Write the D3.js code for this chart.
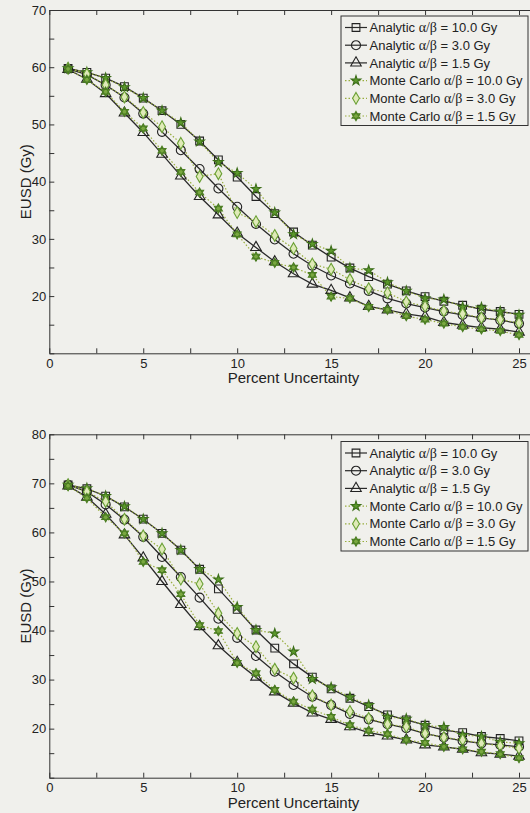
<!DOCTYPE html>
<html>
<head>
<meta charset="utf-8">
<script src="https://cdn.jsdelivr.net/npm/d3@7"></script>
<style>
  html,body{margin:0;padding:0;background:#f0f0ec;}
  svg{display:block;font-family:"Liberation Sans",Arial,sans-serif;}
  .axis path,.axis line{stroke:#333;stroke-width:1;}
  .axis text{font-size:13px;fill:#222;font-family:"Liberation Sans",Arial,sans-serif;}
</style>
</head>
<body>
<script>
// percent uncertainty (x)
const pct = [1,2,3,4,5,6,7,8,9,10,11,12,13,14,15,16,17,18,19,20,21,22,23,24,25]

// top panel
const topA10 = [59.8,59.1,58.1,56.6,54.6,52.4,50.0,47.1,43.8,40.8,37.4,34.4,31.2,28.9,26.8,24.9,23.4,22.1,20.9,19.9,19.1,18.4,17.7,17.3,16.8]
const topA3  = [59.7,58.7,56.9,54.7,51.9,48.7,45.5,42.2,38.8,35.6,32.6,29.9,27.4,25.3,23.6,22.2,20.9,19.6,18.7,18.0,17.3,16.7,16.2,15.8,15.2]
const topA15 = [59.6,57.9,55.4,52.0,48.6,44.8,41.0,37.4,34.2,31.0,28.5,26.0,23.9,22.1,21.0,19.7,18.2,17.6,16.9,16.4,15.4,14.9,14.5,14.2,13.7]
const topMC10 = [59.8,59.1,58.1,56.5,54.6,52.4,50.3,47.0,43.4,41.5,38.7,34.6,30.8,29.1,27.9,24.9,24.5,22.4,20.9,19.6,19.4,18.1,18.0,17.3,16.7]
const topMC3  = [59.8,58.8,56.9,54.8,52.1,49.6,46.7,40.9,41.4,34.6,33.0,30.6,28.3,25.6,24.7,22.9,21.3,20.6,19.0,18.2,17.4,16.9,16.2,15.9,15.3]
const topMC15 = [59.7,57.8,55.7,52.2,49.3,45.4,41.7,38.1,35.3,30.8,26.9,25.8,25.0,23.7,19.9,19.6,18.1,17.6,16.5,15.9,15.2,14.6,14.2,13.9,13.2]

// bottom panel
const botA10 = [69.7,68.9,67.4,65.2,62.7,59.8,56.4,52.5,48.5,44.3,40.1,36.4,33.2,30.5,28.1,26.2,24.5,22.8,21.8,20.7,19.7,19.2,18.4,18.0,17.5]
const botA3  = [69.7,68.3,65.7,62.6,59.1,55.0,50.9,46.7,42.4,38.5,34.8,31.6,28.9,26.5,24.8,23.0,21.9,20.9,20.1,19.0,18.2,17.5,17.0,16.7,16.3]
const botA15 = [69.5,67.2,63.7,59.5,54.8,50.0,45.3,40.8,36.9,33.5,30.5,27.5,25.2,23.2,21.9,20.4,19.2,18.5,17.7,16.7,16.3,15.8,15.1,14.8,14.4]
const botMC10 = [69.7,69.0,67.4,65.3,62.7,59.8,56.4,52.5,50.4,44.8,40.1,39.4,35.7,30.1,28.4,26.4,24.8,22.4,22.0,20.7,20.3,18.7,18.4,17.3,17.0]
const botMC3  = [69.7,68.3,66.3,62.7,59.3,56.6,50.5,49.5,43.5,39.4,36.7,32.1,30.3,26.7,24.8,23.5,22.1,20.9,20.4,19.0,18.2,17.7,17.0,16.5,16.0]
const botMC15 = [69.5,67.0,63.1,59.8,54.0,52.3,47.4,41.1,39.9,33.4,31.3,27.9,25.5,23.9,22.4,20.7,19.6,18.9,17.7,17.1,16.3,15.8,15.3,14.8,14.0]

const legendNames = ['Analytic','Analytic','Analytic','Monte Carlo','Monte Carlo','Monte Carlo']
const legendAB = ['10.0','3.0','1.5','10.0','3.0','1.5']

const W = 530, H = 813
const svg = d3.select('body').append('svg').attr('width',W).attr('height',H)

// six-pointed star (two triangles)
function hexagram(r){
  const p = d3.path()
  for(let t=0;t<2;t++){
    for(let k=0;k<3;k++){
      const a = (t?Math.PI/2:-Math.PI/2) + k*2*Math.PI/3
      const x = r*Math.cos(a), y = r*Math.sin(a)
      k==0 ? p.moveTo(x,y) : p.lineTo(x,y)
    }
    p.closePath()
  }
  return p.toString()
}

const styles = [
  {line:'#2a2a2a',dash:null,path:d3.symbol(d3.symbolSquare,60)(),fill:'none',stroke:'#222'},
  {line:'#2a2a2a',dash:null,path:d3.symbol(d3.symbolCircle,64)(),fill:'none',stroke:'#222'},
  {line:'#2a2a2a',dash:null,path:d3.symbol(d3.symbolTriangle,48)(),fill:'none',stroke:'#222'},
  {line:'#97ad3c',dash:'1.5,2',path:d3.symbol(d3.symbolStar,28)(),fill:'#5c9a2c',stroke:'#3d6e1a'},
  {line:'#97ad3c',dash:'1.5,2',path:d3.symbol(d3.symbolDiamond,40)(),fill:'#dfeab8',stroke:'#6aa034'},
  {line:'#97ad3c',dash:'1.5,2',path:hexagram(4.6),fill:'#79a840',stroke:'#4b7d22'}
]

function panel(cfg){
  const x = d3.scaleLinear().domain([0,26]).range([49.3,537.8])
  const y = d3.scaleLinear().domain([10,cfg.ymax]).range([cfg.bottom,cfg.top])
  const g = svg.append('g')

  const xt = d3.range(0,26,2.5)
  g.append('g').attr('class','axis').attr('transform',`translate(0,${cfg.bottom})`)
    .call(d3.axisBottom(x).tickValues(xt).tickSize(-5).tickSizeOuter(0).tickPadding(5)
      .tickFormat(d => d%5==0 ? d : ''))
  g.append('g').attr('class','axis').attr('transform',`translate(0,${cfg.top})`)
    .call(d3.axisTop(x).tickValues(xt).tickSize(-5).tickSizeOuter(0).tickFormat(''))
  g.append('g').attr('class','axis').attr('transform',`translate(49.3,0)`)
    .call(d3.axisLeft(y).tickValues(d3.range(10,cfg.ymax+1,5)).tickSize(-5).tickSizeOuter(0).tickPadding(3)
      .tickFormat(d => (d%10==0 && d>10) ? d : ''))

  g.append('text').attr('x',293.5).attr('y',cfg.bottom+30)
    .attr('text-anchor','middle').attr('font-size',15).attr('fill','#222').text('Percent Uncertainty')
  g.append('text').attr('transform',`translate(31,${(cfg.top+cfg.bottom)/2}) rotate(-90)`)
    .attr('text-anchor','middle').attr('font-size',15).attr('fill','#222').text('EUSD (Gy)')

  const line = d3.line().x((d,i) => x(pct[i])).y(d => y(d))
  cfg.series.forEach((s,k) => {
    const st = styles[k]
    g.append('path').attr('d',line(s)).attr('fill','none')
      .attr('stroke',st.line).attr('stroke-width',k<3?1.3:1.2).attr('stroke-dasharray',st.dash)
  })
  cfg.series.forEach((s,k) => {
    const st = styles[k]
    g.append('g').selectAll('path').data(s).join('path')
      .attr('d',st.path)
      .attr('transform',(d,i) => `translate(${x(pct[i])},${y(d)})`)
      .attr('fill',st.fill).attr('stroke',st.stroke).attr('stroke-width',1.1)
  })

  // legend
  const lg = g.append('g').attr('transform',`translate(341,${cfg.legTop})`)
  lg.append('rect').attr('width',187).attr('height',109.5)
    .attr('fill','#f0f0ec').attr('stroke','#333').attr('stroke-width',1)
  legendNames.forEach((n,k) => {
    const st = styles[k]
    const cy = 11.5 + k*17.7
    lg.append('line').attr('x1',4).attr('x2',26).attr('y1',cy).attr('y2',cy)
      .attr('stroke',st.line).attr('stroke-width',1.2).attr('stroke-dasharray',st.dash)
    lg.append('path').attr('d',st.path).attr('transform',`translate(15,${cy})`)
      .attr('fill',st.fill).attr('stroke',st.stroke).attr('stroke-width',1.1)
    const t = lg.append('text').attr('x',28.5).attr('y',cy+4.6).attr('font-size',13).attr('fill','#222')
    t.append('tspan').text(n+' ')
    t.append('tspan').attr('font-family','"Liberation Serif",serif').attr('font-size',14).text('α/β')
    t.append('tspan').text(' = '+legendAB[k]+' Gy')
  })
}

panel({ymax:70,top:10,bottom:353.3,legTop:16,series:[topA10,topA3,topA15,topMC10,topMC3,topMC15]})
panel({ymax:80,top:434.3,bottom:777.7,legTop:441.5,series:[botA10,botA3,botA15,botMC10,botMC3,botMC15]})
</script>
</body>
</html>
